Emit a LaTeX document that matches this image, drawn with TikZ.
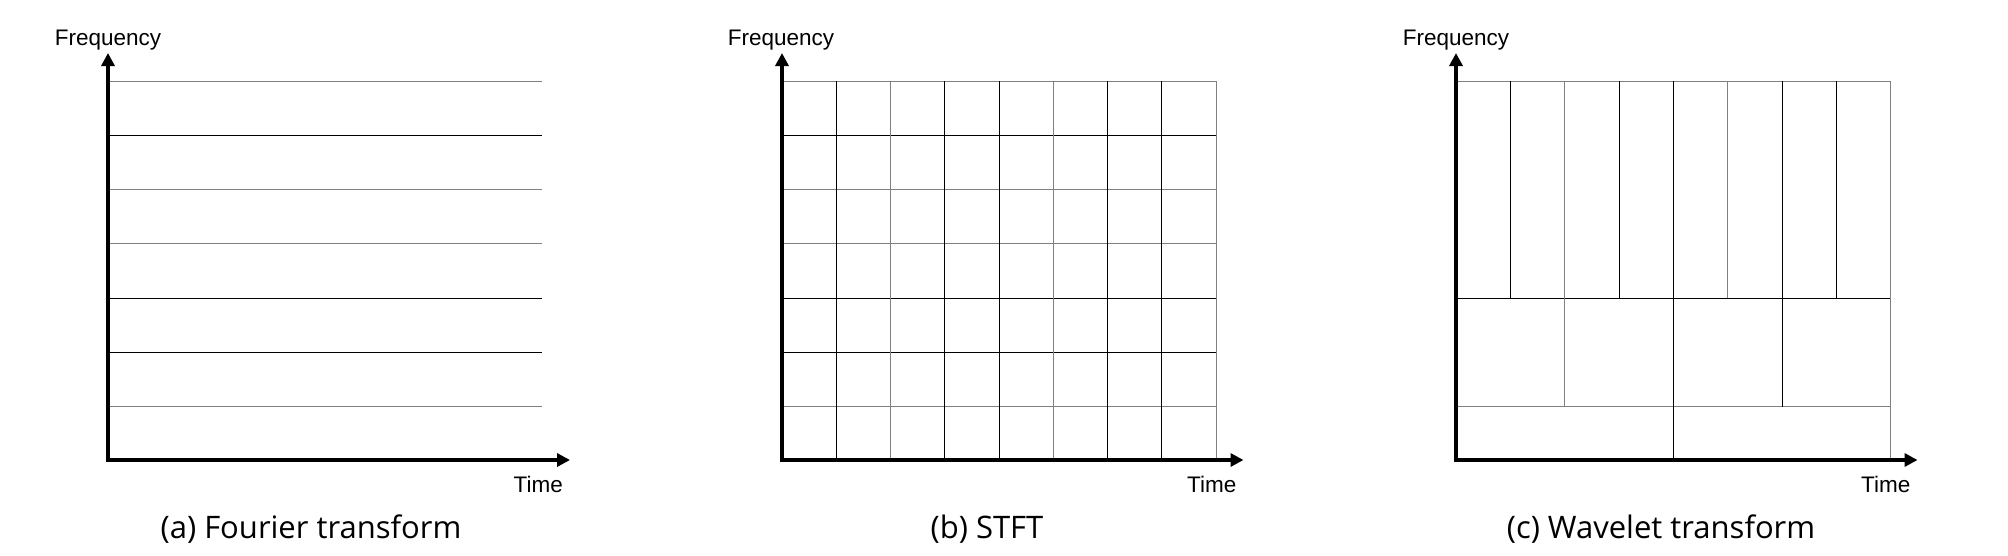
\documentclass[tikz,border=0pt]{standalone}
\usepackage{fontspec}
\usetikzlibrary{arrows.meta}
\newfontfamily\axfont{Liberation Sans}
\newfontfamily\capfont{Open Sans}
\definecolor{gridgray}{RGB}{128,128,128}
\tikzset{
  blk/.style={line width=1pt, draw=black},
  gry/.style={line width=1pt, draw=gridgray},
  axisline/.style={line width=4pt, line join=miter,
    {Triangle[length=13pt,width=13pt]}-{Triangle[length=13pt,width=13pt]}},
  axlabel/.style={inner sep=0pt, font=\axfont\fontsize{22.5}{26}\selectfont},
  capt/.style={inner sep=0pt, anchor=base, font=\capfont\fontsize{31}{36}\selectfont},
}
\begin{document}
\begin{tikzpicture}[x=1pt,y=-1pt]
\useasboundingbox (0,0) rectangle (2008,555);
% ---------- (a) Fourier transform ----------
\draw[gry] (108,81)    -- (542,81);
\draw[blk] (108,135.3) -- (542,135.3);
\draw[gry] (108,189.6) -- (542,189.6);
\draw[gry] (108,243.9) -- (542,243.9);
\draw[blk] (108,298.2) -- (542,298.2);
\draw[blk] (108,352.5) -- (542,352.5);
\draw[gry] (108,406.8) -- (542,406.8);
\coordinate (aY) at (108,53);
\coordinate (aO) at (108,460);
\coordinate (aX) at (570,460);
\draw[axisline] (aY) -- (aO) -- (aX);
\node[axlabel, anchor=base] (afreq) at (108,45) {Frequency};
\node[axlabel, anchor=base east] (atime) at (563,492.5) {Time};
\node[capt] (acap) at (311,538) {(a) Fourier transform};
% ---------- (b) STFT ----------
\draw[gry] (782,81)    -- (1216,81);
\draw[blk] (782,135.3) -- (1216,135.3);
\draw[gry] (782,189.6) -- (1216,189.6);
\draw[gry] (782,243.9) -- (1216,243.9);
\draw[blk] (782,298.2) -- (1216,298.2);
\draw[blk] (782,352.5) -- (1216,352.5);
\draw[gry] (782,406.8) -- (1216,406.8);
\draw[blk] (836.25,81) -- (836.25,460);
\draw[gry] (890.5,81)  -- (890.5,460);
\draw[blk] (944.75,81) -- (944.75,460);
\draw[blk] (999,81)    -- (999,460);
\draw[gry] (1053.25,81) -- (1053.25,460);
\draw[blk] (1107.5,81) -- (1107.5,460);
\draw[blk] (1161.75,81) -- (1161.75,460);
\draw[gry] (1216,81)   -- (1216,460);
\coordinate (bY) at (782,53);
\coordinate (bO) at (782,460);
\coordinate (bX) at (1243.5,460);
\draw[axisline] (bY) -- (bO) -- (bX);
\node[axlabel, anchor=base] (bfreq) at (781,45) {Frequency};
\node[axlabel, anchor=base east] (btime) at (1236.5,492.5) {Time};
\node[capt] (bcap) at (987,538) {(b) STFT};
% ---------- (c) Wavelet transform ----------
\draw[gry] (1456,81)    -- (1890.7,81);
\draw[blk] (1456,298.2) -- (1890.7,298.2);
\draw[gry] (1456,406.8) -- (1890.7,406.8);
\draw[gry] (1890.7,81)  -- (1890.7,460);
% top band: 8 columns
\draw[blk] (1510.3,81) -- (1510.3,298.2);
\draw[gry] (1564.7,81) -- (1564.7,298.2);
\draw[blk] (1619,81)   -- (1619,298.2);
\draw[blk] (1673.4,81) -- (1673.4,460);
\draw[gry] (1727.7,81) -- (1727.7,298.2);
\draw[blk] (1782,81)   -- (1782,298.2);
\draw[blk] (1836.4,81) -- (1836.4,298.2);
% middle band: 4 columns
\draw[gry] (1564.7,298.2) -- (1564.7,406.8);
\draw[blk] (1782,298.2)   -- (1782,406.8);
\coordinate (cY) at (1456,53);
\coordinate (cO) at (1456,460);
\coordinate (cX) at (1917.5,460);
\draw[axisline] (cY) -- (cO) -- (cX);
\node[axlabel, anchor=base] (cfreq) at (1456,45) {Frequency};
\node[axlabel, anchor=base east] (ctime) at (1910.5,492.5) {Time};
\node[capt] (ccap) at (1661,538) {(c) Wavelet transform};
\end{tikzpicture}
\end{document}
